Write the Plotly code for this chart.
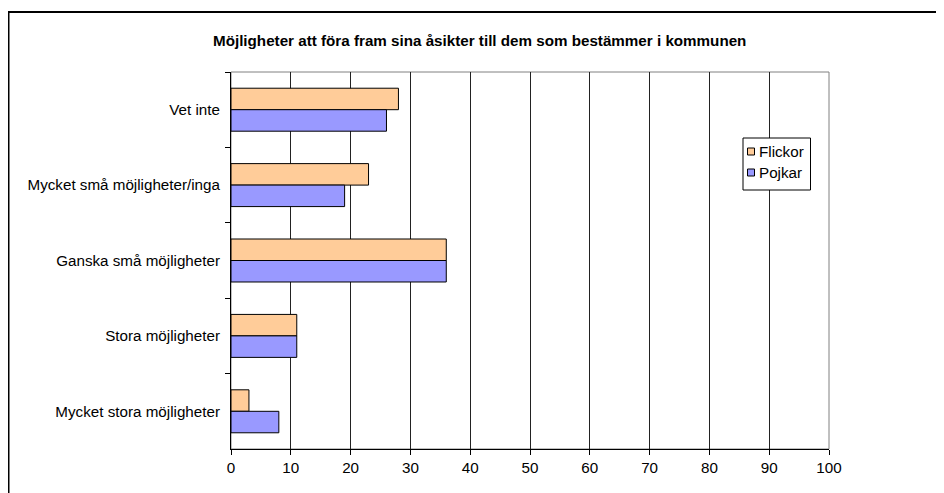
import plotly.graph_objects as go

categories = ["Vet inte", "Mycket små möjligheter/inga", "Ganska små möjligheter",
              "Stora möjligheter", "Mycket stora möjligheter"]
flickor = [28, 23, 36, 11, 3]
pojkar = [26, 19, 36, 11, 8]
x_ticks = [0, 10, 20, 30, 40, 50, 60, 70, 80, 90, 100]
series_names = ["Flickor", "Pojkar"]
series_colors = ["#FFCC99", "#9999FF"]
title = "Möjligheter att föra fram sina åsikter till dem som bestämmer i kommunen"

# page has an 8px body margin; figure coords = page coords - 8
OFF = 8
W, H = 936, 485
L, R, T, B = 231 - OFF, 936 - (829 - OFF), 72 - OFF, 485 - (449 - OFF)
pw, ph = W - L - R, H - T - B


def px_x(px):
    return (px - OFF - L) / pw


def px_y(py):
    return (H - B - (py - OFF)) / ph


font = "Liberation Sans, Arial, sans-serif"
FS = 15.2

fig = go.Figure()
for name, vals, col in zip(series_names, [flickor, pojkar], series_colors):
    fig.add_trace(go.Bar(y=categories, x=vals, name=name, orientation="h",
                         marker=dict(color=col, line=dict(color="#000000", width=1))))

shapes = [
    dict(type="rect", xref="paper", yref="paper", x0=0, x1=1, y0=0, y1=1,
         line=dict(color="#808080", width=1), layer="below"),
    dict(type="rect", xref="paper", yref="paper",
         x0=px_x(8.5), x1=px_x(980), y0=px_y(12), y1=px_y(540),
         line=dict(color="black", width=2)),
    # legend box
    dict(type="rect", xref="paper", yref="paper",
         x0=px_x(743), x1=px_x(810.5), y0=px_y(138), y1=px_y(190),
         line=dict(color="black", width=1), fillcolor="white", layer="above"),
]
annotations = [
    dict(text="<b>" + title + "</b>", xref="paper", yref="paper",
         x=px_x(479), y=px_y(41), xanchor="center", yanchor="middle",
         showarrow=False, font=dict(size=FS, family=font, color="black")),
]
for i, (name, col) in enumerate(zip(series_names, series_colors)):
    cy = 151.5 + i * 21
    shapes.append(dict(type="rect", xref="paper", yref="paper",
                       x0=px_x(747.5), x1=px_x(754.5), y0=px_y(cy - 3.5), y1=px_y(cy + 3.5),
                       line=dict(color="black", width=1), fillcolor=col, layer="above"))
    annotations.append(dict(text=name, xref="paper", yref="paper",
                            x=px_x(756.5), y=px_y(cy), xanchor="left", yanchor="middle",
                            showarrow=False, font=dict(size=FS, family=font, color="black")))

fig.update_layout(
    width=W, height=H,
    margin=dict(l=L, r=R, t=T, b=B, pad=0),
    paper_bgcolor="white", plot_bgcolor="white",
    barmode="group", bargap=0.43, bargroupgap=0,
    font=dict(family=font, size=FS, color="black"),
    showlegend=False,
    xaxis=dict(range=[0, 100], tickvals=x_ticks, ticktext=[str(v) for v in x_ticks],
               showgrid=True, gridcolor="#222222", gridwidth=1,
               showline=True, linecolor="black", linewidth=1,
               ticks="outside", ticklen=5, tickcolor="black",
               zeroline=False, fixedrange=True),
    yaxis=dict(autorange="reversed", showline=True, linecolor="black", linewidth=1,
               ticks="outside", ticklen=5, tickcolor="black", tickson="boundaries",
               showgrid=False, ticklabelstandoff=7, fixedrange=True),
    shapes=shapes,
    annotations=annotations,
)

fig.write_html("out.html")
